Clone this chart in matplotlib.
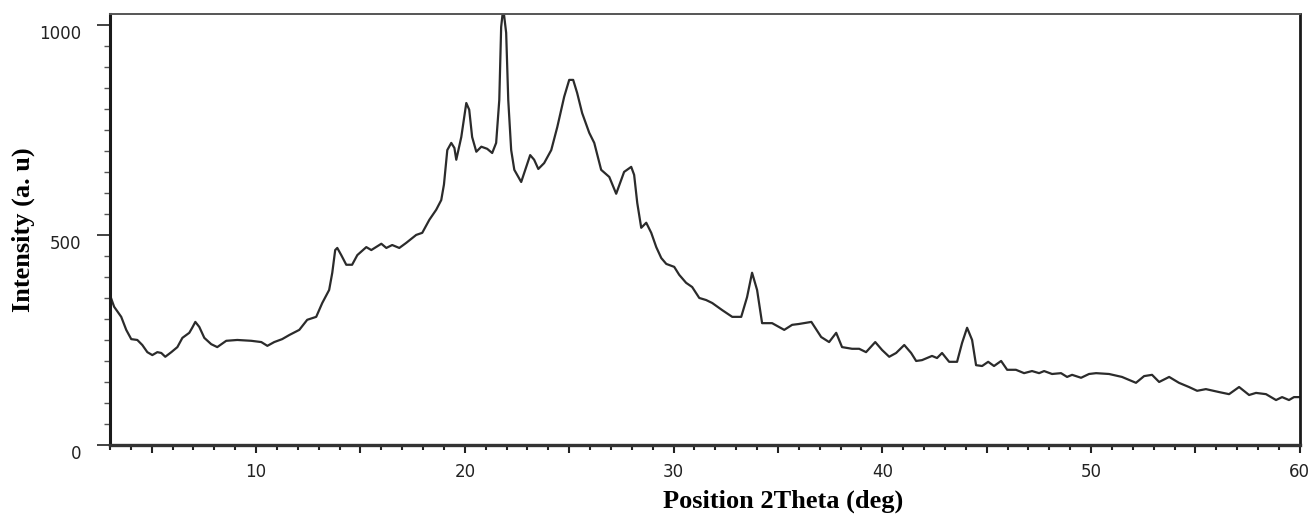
import matplotlib
matplotlib.use("Agg")
import matplotlib.pyplot as plt
from matplotlib.ticker import MultipleLocator, FuncFormatter

'''
XRD pattern, intensity vs 2 theta
'''

# values
two_theta = [3.0, 3.2, 3.54, 3.78, 4.02, 4.31, 4.55, 4.79, 5.03, 5.27, 5.46, 5.65, 5.94,
             6.23, 6.47, 6.8, 6.94, 7.09, 7.28, 7.52, 7.85, 8.14, 8.57, 9.1, 9.77, 10.25,
             10.54, 10.87, 11.25, 11.6, 12.07, 12.45, 12.88, 13.17, 13.5, 13.65, 13.79,
             13.89, 14.08, 14.32, 14.6, 14.85, 15.28, 15.52, 16.0, 16.24, 16.52, 16.86,
             17.19, 17.67, 17.96, 18.3, 18.63, 18.87, 19.0, 19.16, 19.35, 19.5, 19.59,
             19.83, 20.07, 20.21, 20.35, 20.55, 20.79, 21.07, 21.31, 21.5, 21.65, 21.74,
             21.84, 21.98, 22.08, 22.22, 22.37, 22.7, 22.94, 23.13, 23.32, 23.52, 23.8,
             24.14, 24.43, 24.76, 25.0, 25.19, 25.38, 25.62, 25.96, 26.2, 26.53, 26.92,
             27.25, 27.49, 27.63, 27.97, 28.11, 28.26, 28.45, 28.69, 28.93, 29.17, 29.41,
             29.65, 30.03, 30.27, 30.6, 30.89, 31.23, 31.56, 31.85, 32.33, 32.81, 33.24,
             33.52, 33.76, 34.0, 34.24, 34.72, 35.3, 35.68, 36.0, 36.6, 37.07, 37.45,
             37.79, 38.07, 38.55, 38.89, 39.22, 39.66, 39.99, 40.33, 40.66, 41.05, 41.38,
             41.62, 41.9, 42.38, 42.62, 42.86, 43.2, 43.58, 43.82, 44.06, 44.3, 44.49,
             44.78, 45.07, 45.35, 45.69, 45.98, 46.4, 46.79, 47.17, 47.51, 47.75, 48.13,
             48.56, 48.85, 49.09, 49.52, 49.9, 50.24, 50.86, 51.48, 52.15, 52.54, 52.92,
             53.26, 53.74, 54.21, 54.69, 55.08, 55.5, 56.13, 56.61, 57.09, 57.57, 57.9,
             58.38, 58.86, 59.15, 59.48, 59.72, 60.0]
intensity = [357, 329, 305, 274, 252, 250, 238, 221, 214, 221, 219, 210, 221,
             233, 255, 267, 279, 293, 281, 255, 240, 233, 248, 250, 248, 245,
             236, 245, 252, 262, 274, 298, 305, 338, 369, 410, 464,
             469, 452, 429, 429, 452, 471, 464, 479, 469, 476, 469,
             481, 500, 505, 536, 560, 583, 620, 702, 719, 707, 679,
             733, 814, 798, 733, 698, 710, 705, 695, 719, 821, 995,
             1040, 981, 821, 702, 655, 626, 662, 690, 679, 657, 671,
             702, 757, 829, 869, 869, 838, 790, 743, 719, 655, 638,
             598, 631, 650, 662, 643, 576, 517, 529, 505, 471, 445,
             431, 424, 405, 386, 376, 350, 345, 338, 321, 305, 305,
             352, 410, 369, 290, 290, 274, 286, 288, 293, 257, 245,
             267, 233, 229, 229, 221, 245, 226, 210, 219, 238, 219,
             200, 202, 212, 207, 219, 198, 198, 243, 279, 250, 190,
             188, 198, 188, 200, 179, 179, 171, 176, 171, 176, 169,
             171, 162, 167, 160, 169, 171, 169, 162, 148, 164, 167,
             150, 162, 148, 138, 129, 133, 126, 121, 138, 119, 124,
             121, 107, 114, 107, 114, 114]

fig = plt.figure(figsize=(13.09, 5.16), dpi=100)
ax = fig.add_axes([0.084, 0.1376, 0.909, 0.8354])

# the pattern itself
ax.plot(two_theta, intensity, color='#2b2b2b', linewidth=1.6)

ax.set_xlim(3, 60)
ax.set_ylim(0, 1026)

# ticks: long every 5 deg / 500 counts, short every 1 deg / 50 counts
ax.xaxis.set_major_locator(MultipleLocator(5))
ax.xaxis.set_minor_locator(MultipleLocator(1))
ax.xaxis.set_major_formatter(FuncFormatter(lambda v, p: '%d' % v if v % 10 == 0 else ''))
ax.yaxis.set_major_locator(MultipleLocator(500))
ax.yaxis.set_minor_locator(MultipleLocator(50))

ax.tick_params(axis='x', which='major', direction='out', length=6, width=1.5,
               pad=7, labelsize=12, colors='#222222')
ax.tick_params(axis='x', which='minor', direction='out', length=3.5, width=1.5,
               colors='#222222')
ax.tick_params(axis='y', which='major', direction='out', length=9.5, width=1.2,
               pad=11, labelsize=12, colors='#222222')
ax.tick_params(axis='y', which='minor', direction='out', length=4.5, width=1.0,
               colors='#555555')

for lab in ax.get_yticklabels():
    lab.set_verticalalignment('top')

ax.spines['left'].set_linewidth(2.2)
ax.spines['left'].set_color('#1a1a1a')
ax.spines['bottom'].set_linewidth(2.4)
ax.spines['bottom'].set_color('#333333')
ax.spines['right'].set_linewidth(2.0)
ax.spines['right'].set_color('#1a1a1a')
ax.spines['top'].set_linewidth(1.4)
ax.spines['top'].set_color('#555555')

# axis titles in bold serif
ax.set_xlabel('Position 2Theta (deg)', family='Liberation Serif', weight='bold',
              fontsize=19)
ax.xaxis.set_label_coords(0.566, -0.103)
ax.set_ylabel('Intensity (a. u)', family='Liberation Serif', weight='bold',
              fontsize=19)
ax.yaxis.set_label_coords(-0.063, 0.5)

fig.savefig('out.png', dpi=100)
